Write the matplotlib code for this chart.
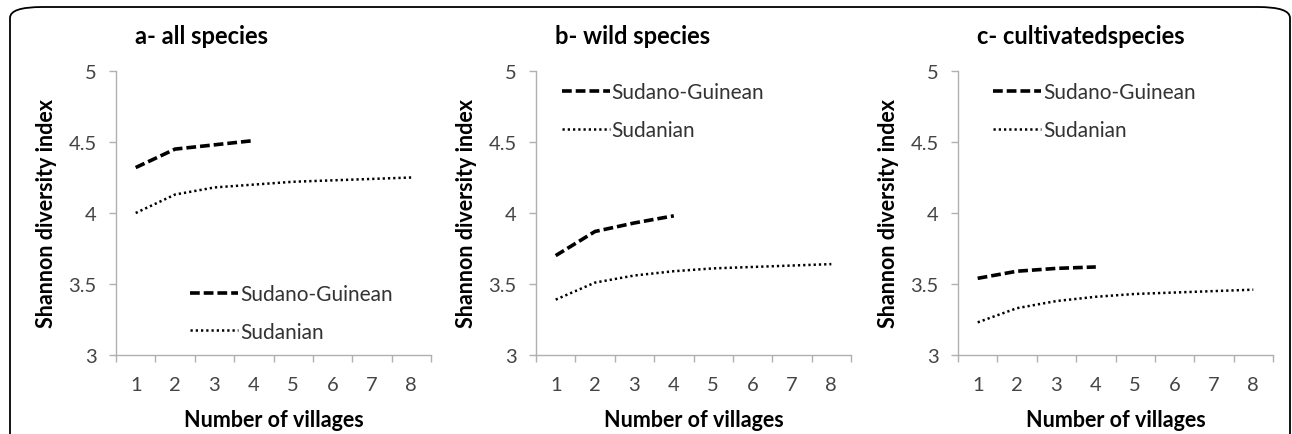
import numpy as np
import matplotlib
matplotlib.use("Agg")
import matplotlib.pyplot as plt
from matplotlib.patches import FancyBboxPatch

plt.rcParams['font.family'] = ['Lato', 'DejaVu Sans']

villages = [1, 2, 3, 4, 5, 6, 7, 8]
titles = ['a- all species', 'b- wild species', 'c- cultivatedspecies']

# Sudano-Guinean zone: 4 villages, Sudanian zone: 8 villages
sg_all = [4.32, 4.45, 4.48, 4.51]
su_all = [4.00, 4.13, 4.18, 4.20, 4.22, 4.23, 4.24, 4.25]
sg_wild = [3.70, 3.87, 3.93, 3.98]
su_wild = [3.39, 3.51, 3.56, 3.59, 3.61, 3.62, 3.63, 3.64]
sg_cult = [3.54, 3.59, 3.61, 3.62]
su_cult = [3.23, 3.33, 3.38, 3.41, 3.43, 3.44, 3.45, 3.46]

series = [(sg_all, su_all), (sg_wild, su_wild), (sg_cult, su_cult)]
lefts = [116, 536, 958]
legend_pos = [(0.21, 0.28), (0.055, 0.99), (0.085, 0.99)]

fig = plt.figure(figsize=(12.92, 4.35), dpi=100)
W, H = 1292, 435

# rounded frame around the whole figure, open at the bottom
frame = FancyBboxPatch((10 / W, -0.2), 1280 / W, 1.2 - 8 / H,
                       boxstyle="round,pad=0,rounding_size=0.025",
                       transform=fig.transFigure, fill=False,
                       edgecolor='black', linewidth=1.3)
fig.patches.append(frame)

gray = '#b0b0b0'
for i, (sg, su) in enumerate(series):
    ax = fig.add_axes([lefts[i] / W, 1 - 356 / H, 315 / W, (356 - 72) / H])
    x_sg = villages[:len(sg)]
    ax.plot(x_sg, sg, color='black', lw=2.6, dashes=(2.7, 1.1), label='Sudano-Guinean')
    ax.plot(villages, su, color='black', lw=1.8, dashes=(0.9, 1.2), label='Sudanian')

    ax.set_xlim(0.5, 8.5)
    ax.set_ylim(3, 5)
    ax.set_yticks([3, 3.5, 4, 4.5, 5])
    ax.set_yticklabels(['3', '3.5', '4', '4.5', '5'])
    ax.set_xticks(villages)
    ax.set_xticks(np.arange(0.5, 9, 1), minor=True)
    ax.tick_params(axis='x', which='major', length=0, pad=15, labelsize=14.5, labelcolor='#444444')
    ax.tick_params(axis='x', which='minor', length=5, color=gray, width=1)
    ax.tick_params(axis='y', length=5, color=gray, width=1, pad=9, labelsize=14.5, labelcolor='#444444')

    for s in ['top', 'right']:
        ax.spines[s].set_visible(False)
    for s in ['left', 'bottom']:
        ax.spines[s].set_color(gray)
        ax.spines[s].set_linewidth(1)

    ax.set_xlabel('Number of villages', fontsize=15.5, fontweight='bold', va='baseline')
    ax.xaxis.set_label_coords(0.5, -0.25)
    ax.set_ylabel('Shannon diversity index', fontsize=15.5, fontweight='bold', va='center')
    ax.yaxis.set_label_coords(-0.222, 0.5)
    ax.text(0.06, 1.125, titles[i], transform=ax.transAxes, fontsize=17,
            fontweight='bold', ha='left', va='center')

    leg = ax.legend(loc='upper left', bbox_to_anchor=legend_pos[i], frameon=False,
                    fontsize=15, handlelength=2.3, handletextpad=0.1,
                    labelspacing=0.85, borderaxespad=0)
    for t in leg.get_texts():
        t.set_color('#333333')

fig.savefig('out.png', dpi=100)
